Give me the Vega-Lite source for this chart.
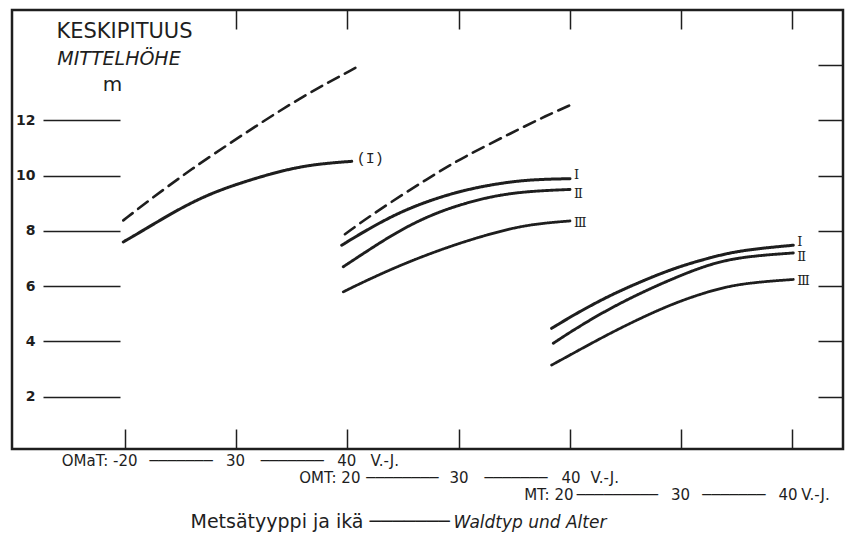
{
  "$schema": "https://vega.github.io/schema/vega-lite/v6.json",
  "description": "Mean stand height (m) by forest type OMaT, OMT and MT against stand age, site classes I-III, with a dashed upper reference curve.",
  "width": 831,
  "height": 439,
  "autosize": {"type": "none"},
  "padding": {"left": 12, "top": 10, "right": 2, "bottom": 87},
  "background": "#ffffff",
  "config": {
    "view": {"stroke": "#1e1e1e", "strokeWidth": 2.5},
    "font": "DejaVu Sans",
    "axis": {
      "grid": false,
      "domain": false,
      "tickColor": "#1e1e1e",
      "tickWidth": 1.5,
      "labelColor": "#1e1e1e",
      "titleColor": "#1e1e1e",
      "labelFont": "DejaVu Sans",
      "titleFont": "DejaVu Sans",
      "titleFontWeight": "normal",
      "labelFlush": false,
      "labelOverlap": false,
      "labelBound": false
    }
  },
  "datasets": {
    "heights": [
      {"type": "OMaT", "curve": "I", "ageAxis": 19.85, "height": 7.60},
      {"type": "OMaT", "curve": "I", "ageAxis": 21.65, "height": 8.02},
      {"type": "OMaT", "curve": "I", "ageAxis": 24.65, "height": 8.75},
      {"type": "OMaT", "curve": "I", "ageAxis": 27.64, "height": 9.35},
      {"type": "OMaT", "curve": "I", "ageAxis": 30.64, "height": 9.77},
      {"type": "OMaT", "curve": "I", "ageAxis": 33.64, "height": 10.13},
      {"type": "OMaT", "curve": "I", "ageAxis": 36.64, "height": 10.40},
      {"type": "OMaT", "curve": "I", "ageAxis": 40.39, "height": 10.52, "label": "(I)"},
      {"type": "OMaT", "curve": "ref", "ageAxis": 19.85, "height": 8.38},
      {"type": "OMaT", "curve": "ref", "ageAxis": 21.98, "height": 9.05},
      {"type": "OMaT", "curve": "ref", "ageAxis": 25.85, "height": 10.21},
      {"type": "OMaT", "curve": "ref", "ageAxis": 30.61, "height": 11.49},
      {"type": "OMaT", "curve": "ref", "ageAxis": 35.74, "height": 12.83},
      {"type": "OMaT", "curve": "ref", "ageAxis": 41.13, "height": 13.99},
      {"type": "OMT", "curve": "ref", "ageAxis": 39.78, "height": 7.88},
      {"type": "OMT", "curve": "ref", "ageAxis": 42.33, "height": 8.63},
      {"type": "OMT", "curve": "ref", "ageAxis": 47.43, "height": 9.95},
      {"type": "OMT", "curve": "ref", "ageAxis": 50.42, "height": 10.67},
      {"type": "OMT", "curve": "ref", "ageAxis": 54.92, "height": 11.58},
      {"type": "OMT", "curve": "ref", "ageAxis": 57.92, "height": 12.18},
      {"type": "OMT", "curve": "ref", "ageAxis": 60.31, "height": 12.60},
      {"type": "OMT", "curve": "I", "ageAxis": 39.49, "height": 7.48},
      {"type": "OMT", "curve": "I", "ageAxis": 41.43, "height": 7.96},
      {"type": "OMT", "curve": "I", "ageAxis": 44.43, "height": 8.63},
      {"type": "OMT", "curve": "I", "ageAxis": 47.43, "height": 9.11},
      {"type": "OMT", "curve": "I", "ageAxis": 50.42, "height": 9.47},
      {"type": "OMT", "curve": "I", "ageAxis": 53.43, "height": 9.71},
      {"type": "OMT", "curve": "I", "ageAxis": 56.42, "height": 9.86},
      {"type": "OMT", "curve": "I", "ageAxis": 60.02, "height": 9.89, "label": "Ⅰ"},
      {"type": "OMT", "curve": "II", "ageAxis": 39.63, "height": 6.70},
      {"type": "OMT", "curve": "II", "ageAxis": 41.43, "height": 7.18},
      {"type": "OMT", "curve": "II", "ageAxis": 44.43, "height": 7.96},
      {"type": "OMT", "curve": "II", "ageAxis": 47.43, "height": 8.57},
      {"type": "OMT", "curve": "II", "ageAxis": 50.42, "height": 8.99},
      {"type": "OMT", "curve": "II", "ageAxis": 53.43, "height": 9.29},
      {"type": "OMT", "curve": "II", "ageAxis": 56.42, "height": 9.44},
      {"type": "OMT", "curve": "II", "ageAxis": 60.02, "height": 9.50, "label": "Ⅱ"},
      {"type": "OMT", "curve": "III", "ageAxis": 39.63, "height": 5.79},
      {"type": "OMT", "curve": "III", "ageAxis": 41.43, "height": 6.15},
      {"type": "OMT", "curve": "III", "ageAxis": 44.43, "height": 6.70},
      {"type": "OMT", "curve": "III", "ageAxis": 47.43, "height": 7.18},
      {"type": "OMT", "curve": "III", "ageAxis": 50.42, "height": 7.60},
      {"type": "OMT", "curve": "III", "ageAxis": 53.43, "height": 7.96},
      {"type": "OMT", "curve": "III", "ageAxis": 56.42, "height": 8.24},
      {"type": "OMT", "curve": "III", "ageAxis": 60.02, "height": 8.36, "label": "Ⅲ"},
      {"type": "MT", "curve": "I", "ageAxis": 58.37, "height": 4.47},
      {"type": "MT", "curve": "I", "ageAxis": 60.32, "height": 4.95},
      {"type": "MT", "curve": "I", "ageAxis": 63.32, "height": 5.61},
      {"type": "MT", "curve": "I", "ageAxis": 66.31, "height": 6.15},
      {"type": "MT", "curve": "I", "ageAxis": 69.31, "height": 6.64},
      {"type": "MT", "curve": "I", "ageAxis": 72.31, "height": 7.00},
      {"type": "MT", "curve": "I", "ageAxis": 75.31, "height": 7.30},
      {"type": "MT", "curve": "I", "ageAxis": 80.10, "height": 7.48, "label": "Ⅰ"},
      {"type": "MT", "curve": "II", "ageAxis": 58.52, "height": 3.93},
      {"type": "MT", "curve": "II", "ageAxis": 60.32, "height": 4.41},
      {"type": "MT", "curve": "II", "ageAxis": 63.32, "height": 5.13},
      {"type": "MT", "curve": "II", "ageAxis": 66.31, "height": 5.74},
      {"type": "MT", "curve": "II", "ageAxis": 69.31, "height": 6.28},
      {"type": "MT", "curve": "II", "ageAxis": 72.31, "height": 6.76},
      {"type": "MT", "curve": "II", "ageAxis": 75.31, "height": 7.06},
      {"type": "MT", "curve": "II", "ageAxis": 80.10, "height": 7.20, "label": "Ⅱ"},
      {"type": "MT", "curve": "III", "ageAxis": 58.37, "height": 3.14},
      {"type": "MT", "curve": "III", "ageAxis": 60.32, "height": 3.57},
      {"type": "MT", "curve": "III", "ageAxis": 63.32, "height": 4.23},
      {"type": "MT", "curve": "III", "ageAxis": 66.31, "height": 4.83},
      {"type": "MT", "curve": "III", "ageAxis": 69.31, "height": 5.37},
      {"type": "MT", "curve": "III", "ageAxis": 72.31, "height": 5.79},
      {"type": "MT", "curve": "III", "ageAxis": 75.31, "height": 6.10},
      {"type": "MT", "curve": "III", "ageAxis": 80.10, "height": 6.24, "label": "Ⅲ"}
    ]
  },
  "data": {"name": "heights"},
  "resolve": {"axis": {"x": "independent", "y": "independent"}},
  "layer": [
    {
      "transform": [{"filter": "datum.type === 'OMaT'"}],
      "mark": {"type": "line", "interpolate": "basis", "color": "#1e1e1e", "strokeCap": "round"},
      "encoding": {
        "x": {
          "field": "ageAxis", "type": "quantitative",
          "scale": {"domain": [9.84, 84.57], "nice": false, "zero": false},
          "axis": {
            "orient": "bottom", "offset": 0, "ticks": false, "tickSize": 0,
            "labelPadding": 11, "labelBaseline": "middle", "labelFontSize": 15,
            "values": [21.08, 25, 29.9, 35, 39.9, 42.03],
            "labelExpr": "datum.value < 22 ? 'OMaT: -20' : datum.value < 27 ? '───────' : datum.value < 32 ? '30' : datum.value < 37 ? '───────' : datum.value < 41 ? '40' : 'V.-J.'",
            "labelAlign": {"condition": [{"test": "datum.value < 22", "value": "right"}, {"test": "datum.value > 41", "value": "left"}], "value": "center"},
            "title": "Metsätyyppi ja ikä ───────",
            "titleFontSize": 19, "titleAlign": "left", "titleBaseline": "alphabetic",
            "titleX": 178, "titleY": 78
          }
        },
        "y": {
          "field": "height", "type": "quantitative",
          "scale": {"domain": [0.1, 16], "nice": false, "zero": false},
          "axis": {
            "orient": "left", "offset": -108, "tickSize": 77,
            "values": [2, 4, 6, 8, 10, 12],
            "labelPadding": 8, "labelFontSize": 14, "labelFontWeight": "bold",
            "title": null
          }
        },
        "detail": {"field": "curve"},
        "strokeDash": {"field": "curve", "type": "nominal", "scale": {"domain": ["I", "II", "III", "ref"], "range": [[1, 0], [1, 0], [1, 0], [12, 7]]}, "legend": null},
        "strokeWidth": {"field": "curve", "type": "ordinal", "scale": {"domain": ["I", "II", "III", "ref"], "range": [3, 2.6, 2.3, 1.8]}, "legend": null}
      }
    },
    {
      "transform": [{"filter": "datum.type === 'OMT'"}],
      "mark": {"type": "line", "interpolate": "basis", "color": "#1e1e1e", "strokeCap": "round"},
      "encoding": {
        "x": {
          "field": "ageAxis", "type": "quantitative",
          "axis": {
            "orient": "bottom", "offset": 0, "ticks": false, "tickSize": 0,
            "labelPadding": 28, "labelBaseline": "middle", "labelFontSize": 15,
            "values": [41.13, 44.91, 50, 55.12, 60.06, 61.82],
            "labelExpr": "datum.value < 42 ? 'OMT: 20' : datum.value < 47 ? '────────' : datum.value < 52 ? '30' : datum.value < 57 ? '───────' : datum.value < 61 ? '40' : 'V.-J.'",
            "labelAlign": {"condition": [{"test": "datum.value < 42", "value": "right"}, {"test": "datum.value > 61", "value": "left"}], "value": "center"},
            "title": "Waldtyp  und Alter",
            "titleFontSize": 17, "titleFontStyle": "italic", "titleAlign": "left", "titleBaseline": "alphabetic",
            "titleX": 441, "titleY": 78
          }
        },
        "y": {
          "field": "height", "type": "quantitative",
          "axis": {
            "orient": "right", "offset": -25, "tickSize": 25,
            "values": [2, 4, 6, 8, 10, 12, 14],
            "labels": false, "title": null
          }
        },
        "detail": {"field": "curve"},
        "strokeDash": {"field": "curve", "type": "nominal", "scale": {"domain": ["I", "II", "III", "ref"], "range": [[1, 0], [1, 0], [1, 0], [12, 7]]}, "legend": null},
        "strokeWidth": {"field": "curve", "type": "ordinal", "scale": {"domain": ["I", "II", "III", "ref"], "range": [3, 2.6, 2.3, 1.8]}, "legend": null}
      }
    },
    {
      "transform": [{"filter": "datum.type === 'MT'"}],
      "mark": {"type": "line", "interpolate": "basis", "color": "#1e1e1e", "strokeCap": "round"},
      "encoding": {
        "x": {
          "field": "ageAxis", "type": "quantitative",
          "axis": {
            "orient": "bottom", "offset": 0, "ticks": false, "tickSize": 0,
            "labelPadding": 45, "labelBaseline": "middle", "labelFontSize": 15,
            "values": [60.29, 64.24, 69.91, 74.72, 79.58, 80.76],
            "labelExpr": "datum.value < 61 ? 'MT: 20' : datum.value < 67 ? '─────────' : datum.value < 72 ? '30' : datum.value < 77 ? '───────' : datum.value < 80.2 ? '40' : 'V.-J.'",
            "labelAlign": {"condition": [{"test": "datum.value < 61", "value": "right"}, {"test": "datum.value > 80.2", "value": "left"}], "value": "center"},
            "title": null
          }
        },
        "y": {
          "field": "height", "type": "quantitative",
          "axis": {
            "orient": "left", "ticks": false, "labels": false,
            "title": "KESKIPITUUS", "titleFontSize": 21, "titleAngle": 0,
            "titleAlign": "center", "titleBaseline": "alphabetic",
            "titleX": 112, "titleY": 27
          }
        },
        "detail": {"field": "curve"},
        "strokeDash": {"field": "curve", "type": "nominal", "scale": {"domain": ["I", "II", "III", "ref"], "range": [[1, 0], [1, 0], [1, 0], [12, 7]]}, "legend": null},
        "strokeWidth": {"field": "curve", "type": "ordinal", "scale": {"domain": ["I", "II", "III", "ref"], "range": [3, 2.6, 2.3, 1.8]}, "legend": null}
      }
    },
    {
      "transform": [{"filter": "datum.label != null && datum.type === 'OMaT'"}],
      "mark": {"type": "text", "align": "left", "baseline": "middle", "dx": 5, "dy": -3, "font": "Liberation Mono", "fontSize": 15, "color": "#1e1e1e"},
      "encoding": {
        "x": {
          "field": "ageAxis", "type": "quantitative",
          "axis": {
            "orient": "bottom", "offset": -20, "tickSize": 20,
            "values": [20, 30, 40, 50, 60, 70, 80],
            "labels": false, "title": null
          }
        },
        "y": {
          "field": "height", "type": "quantitative",
          "axis": {
            "orient": "left", "ticks": false, "labels": false,
            "title": "MITTELHÖHE", "titleFontSize": 19, "titleFontStyle": "italic", "titleAngle": 0,
            "titleAlign": "center", "titleBaseline": "alphabetic",
            "titleX": 106.5, "titleY": 54
          }
        },
        "text": {"field": "label"}
      }
    },
    {
      "transform": [{"filter": "datum.label != null && datum.type !== 'OMaT' && datum.curve === 'I'"}],
      "mark": {"type": "text", "align": "left", "baseline": "middle", "dx": 4, "dy": -3.5, "font": "DejaVu Serif", "fontSize": 13, "color": "#1e1e1e"},
      "encoding": {
        "x": {
          "field": "ageAxis", "type": "quantitative",
          "axis": {
            "orient": "top", "offset": -19, "tickSize": 19,
            "values": [30, 40, 50, 60, 70, 80],
            "labels": false, "title": null
          }
        },
        "y": {
          "field": "height", "type": "quantitative",
          "axis": {
            "orient": "left", "ticks": false, "labels": false,
            "title": "m", "titleFontSize": 20, "titleAngle": 0,
            "titleAlign": "center", "titleBaseline": "alphabetic",
            "titleX": 100, "titleY": 80
          }
        },
        "text": {"field": "label"}
      }
    },
    {
      "transform": [{"filter": "datum.label != null && datum.type !== 'OMaT' && datum.curve === 'II'"}],
      "mark": {"type": "text", "align": "left", "baseline": "middle", "dx": 4, "dy": 4.5, "font": "DejaVu Serif", "fontSize": 13, "color": "#1e1e1e"},
      "encoding": {
        "x": {"field": "ageAxis", "type": "quantitative", "axis": null},
        "y": {"field": "height", "type": "quantitative", "axis": null},
        "text": {"field": "label"}
      }
    },
    {
      "transform": [{"filter": "datum.label != null && datum.type !== 'OMaT' && datum.curve === 'III'"}],
      "mark": {"type": "text", "align": "left", "baseline": "middle", "dx": 4, "dy": 2, "font": "DejaVu Serif", "fontSize": 13, "color": "#1e1e1e"},
      "encoding": {
        "x": {"field": "ageAxis", "type": "quantitative", "axis": null},
        "y": {"field": "height", "type": "quantitative", "axis": null},
        "text": {"field": "label"}
      }
    }
  ]
}
